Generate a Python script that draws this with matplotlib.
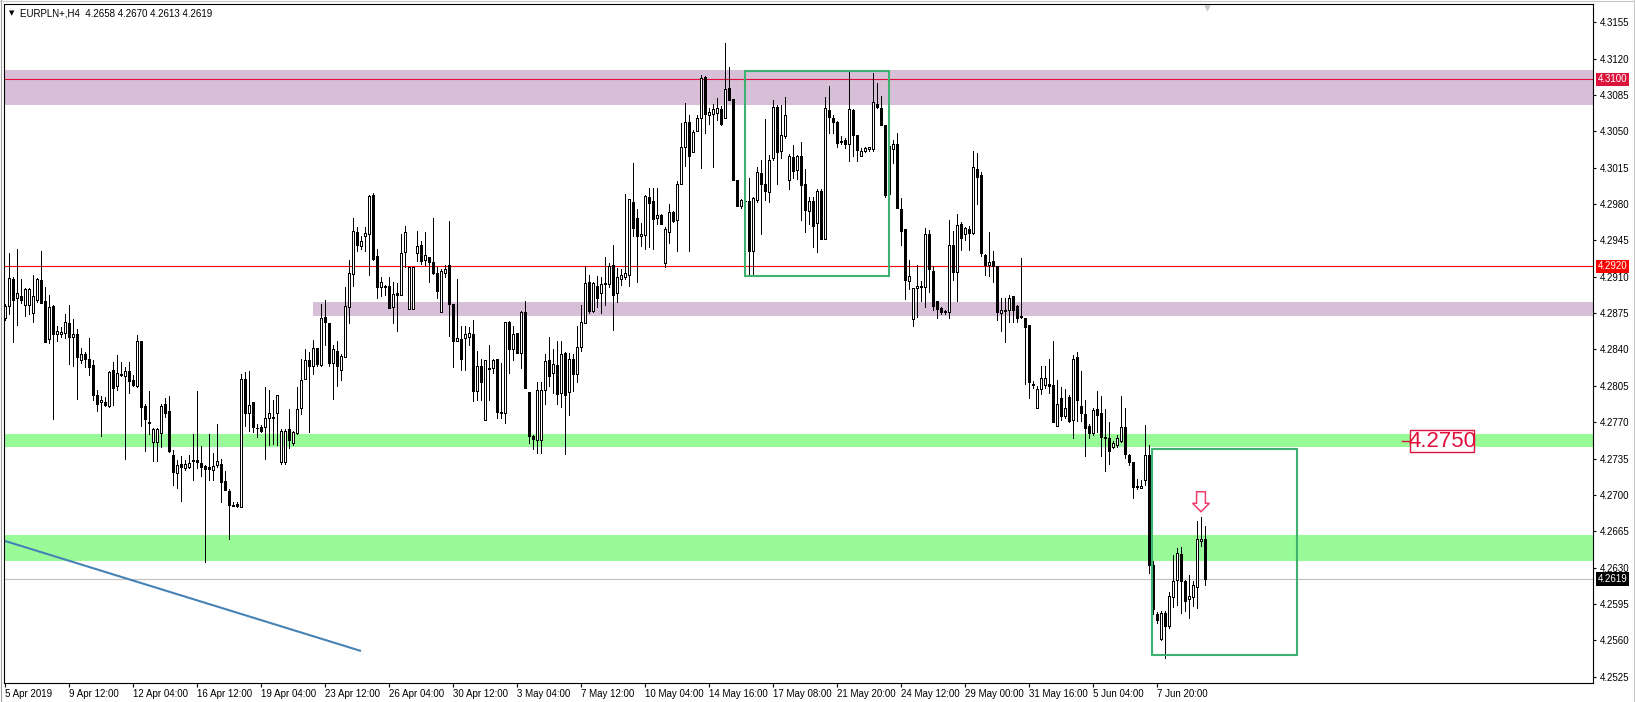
import matplotlib
matplotlib.use('Agg')
import matplotlib.pyplot as plt
import matplotlib.transforms as mtransforms
from matplotlib.patches import Rectangle, Polygon
from matplotlib.lines import Line2D
import numpy as np

# ---------------- data (prices in units of 0.0001) ----------------
open_pips = [
42870,42882,42908,42890,42891,42883,42883,42875,42888,42907,
42887,42850,42882,42855,42855,42856,42865,42852,42855,42830,
42836,42831,42825,42796,42789,42789,42786,42820,42805,42815,
42814,42819,42811,42805,42848,42786,42769,42751,42751,42760,
42788,42781,42738,42721,42730,42726,42727,42733,42734,42731,
42728,42727,42724,42729,42730,42713,42704,42690,42691,42688,
42812,42779,42789,42764,42765,42765,42774,42775,42779,42732,
42732,42763,42750,42760,42784,42812,42830,42824,42841,42825,
42871,42865,42827,42839,42820,42833,42881,42913,42953,42940,
42949,42951,42989,42930,42900,42901,42901,42881,42894,42892,
42934,42879,42879,42933,42941,42926,42929,42924,42914,42876,
42914,42921,42884,42848,42850,42851,42852,42855,42800,42824,
42772,42822,42822,42831,42780,42779,42866,42840,42856,42837,
42876,42799,42757,42753,42753,42801,42830,42817,42825,42798,
42837,42799,42831,42816,42842,42865,42905,42877,42901,42894,
42903,42903,42921,42894,42908,42910,42912,42982,42967,42949,
42950,42987,42983,42967,42969,42923,42953,42972,42965,42999,
43035,43059,43030,43050,43063,43102,43066,43067,43068,43071,
43063,43092,43081,43003,42978,42983,42983,42935,42984,43010,
42999,42992,43024,43073,43031,43045,43003,43025,43013,43026,
42999,42973,42983,42962,42993,42946,43070,43063,43059,43041,
43042,43038,43070,43046,43026,43031,43033,43033,43076,43072,
43056,42990,43033,43038,42975,42956,42906,42869,42899,42900,
42900,42951,42916,42887,42880,42877,42876,42941,42915,42961,
42951,42956,42952,43014,43008,42931,42921,42925,42920,42875,
42877,42878,42891,42882,42871,42870,42864,42807,42784,42802,
42806,42807,42806,42766,42793,42776,42794,42772,42833,42786,
42778,42766,42760,42783,42779,42756,42755,42746,42748,42752,
42765,42738,42732,42709,42707,42714,42738,42633,42585,42561,
42586,42574,42602,42618,42643,42617,42600,42602,42611,42656,
42658]

high_pips = [
42884,42933,42910,42937,42908,42899,42899,42912,42909,42935,
42900,42892,42883,42863,42862,42874,42883,42869,42860,42841,
42838,42851,42830,42801,42795,42794,42819,42828,42835,42828,
42823,42828,42815,42854,42848,42788,42800,42764,42764,42788,
42793,42795,42743,42734,42737,42734,42738,42759,42800,42747,
42729,42759,42740,42768,42735,42723,42706,42693,42693,42816,
42818,42819,42789,42768,42767,42804,42801,42791,42796,42763,
42763,42783,42762,42804,42831,42840,42838,42849,42841,42884,
42888,42865,42844,42848,42836,42900,42926,42967,42958,42949,
42958,42989,42991,42937,42910,42902,42910,42905,42904,42951,
42959,42919,42919,42954,42944,42953,42929,42967,42919,42917,
42921,42964,42884,42908,42863,42863,42862,42868,42839,42831,
42830,42844,42831,42831,42827,42866,42867,42863,42856,42877,
42887,42799,42758,42809,42809,42836,42852,42840,42848,42848,
42838,42837,42836,42863,42883,42920,42912,42905,42911,42910,
42929,42923,42941,42918,42917,42990,42985,43019,42975,42962,
42989,42995,42995,42995,42970,42958,42980,42973,43002,43058,
43077,43066,43051,43066,43104,43103,43072,43076,43082,43074,
43135,43112,43081,43003,42985,42984,43005,42987,43016,43022,
43062,43027,43080,43075,43075,43083,43028,43037,43027,43040,
43014,42987,42987,42994,42994,43083,43094,43066,43060,43045,
43044,43107,43071,43046,43034,43035,43035,43106,43096,43084,
43056,43042,43042,43048,42986,42956,42926,42899,42921,42906,
42957,42955,42920,42887,42881,42878,42965,42954,42970,42963,
42958,42959,43031,43029,43011,42932,42953,42935,42920,42890,
42890,42892,42891,42883,42928,42870,42864,42810,42805,42824,
42824,42831,42848,42811,42804,42802,42796,42835,42838,42819,
42791,42768,42784,42800,42795,42783,42770,42752,42758,42795,
42784,42739,42732,42715,42714,42767,42748,42636,42587,42588,
42588,42607,42642,42649,42650,42618,42623,42617,42675,42679,
42670]

low_pips = [
42868,42874,42847,42864,42885,42872,42874,42866,42886,42885,
42847,42846,42773,42848,42852,42851,42826,42824,42792,42827,
42823,42815,42791,42781,42757,42786,42785,42787,42801,42814,
42735,42798,42805,42804,42766,42742,42759,42733,42733,42746,
42775,42741,42710,42707,42694,42724,42726,42714,42726,42718,
42635,42714,42714,42727,42693,42705,42658,42689,42688,42688,
42766,42762,42761,42756,42761,42735,42748,42749,42748,42730,
42730,42745,42748,42759,42778,42812,42761,42816,42824,42824,
42844,42824,42792,42805,42811,42833,42865,42901,42935,42937,
42935,42912,42926,42890,42891,42892,42880,42865,42858,42892,
42919,42879,42879,42925,42922,42921,42905,42913,42890,42876,
42910,42853,42823,42848,42820,42820,42844,42790,42791,42791,
42772,42791,42817,42774,42774,42769,42817,42830,42837,42822,
42803,42750,42744,42740,42740,42788,42805,42798,42788,42785,
42739,42777,42800,42809,42839,42865,42875,42876,42881,42875,
42883,42900,42859,42886,42902,42908,42901,42949,42905,42940,
42937,42939,42937,42961,42961,42919,42942,42963,42935,42999,
43017,42935,43030,43050,43015,43048,43057,43016,43061,43056,
43063,43080,43003,42978,42976,42982,42912,42913,42982,42951,
42984,42982,43022,42999,43024,43044,42994,43005,43004,42965,
42953,42961,42939,42934,42946,42946,43048,43048,43035,43038,
43034,43021,43026,43021,43026,43030,43031,43031,43072,43056,
42987,42985,43019,42976,42941,42889,42898,42863,42871,42887,
42881,42895,42878,42870,42874,42874,42870,42907,42887,42936,
42945,42936,42951,42980,42930,42912,42911,42905,42868,42858,
42847,42866,42866,42866,42870,42807,42793,42803,42784,42797,
42803,42798,42770,42766,42772,42774,42770,42755,42771,42771,
42737,42755,42758,42761,42737,42723,42730,42745,42746,42751,
42736,42729,42697,42706,42707,42710,42625,42585,42577,42560,
42543,42572,42592,42594,42586,42588,42582,42593,42591,42651,
42613]

close_pips = [
42882,42909,42888,42894,42888,42898,42898,42891,42908,42885,
42847,42881,42855,42858,42857,42866,42852,42855,42833,42836,
42831,42823,42796,42788,42791,42787,42818,42803,42817,42816,
42819,42810,42806,42848,42785,42773,42770,42763,42763,42786,
42779,42742,42722,42729,42727,42730,42731,42734,42732,42727,
42725,42725,42728,42733,42712,42705,42690,42689,42689,42812,
42779,42787,42765,42764,42762,42774,42779,42774,42796,42762,
42762,42753,42761,42783,42811,42830,42824,42841,42826,42870,
42866,42827,42840,42824,42834,42882,42914,42954,42941,42944,
42952,42988,42927,42900,42905,42900,42880,42893,42892,42933,
42953,42919,42919,42940,42925,42931,42924,42914,42896,42916,
42917,42884,42848,42851,42831,42855,42856,42800,42824,42809,
42830,42821,42830,42780,42779,42866,42840,42855,42837,42876,
42803,42757,42754,42801,42801,42829,42814,42826,42797,42836,
42796,42831,42816,42842,42866,42904,42877,42904,42890,42903,
42904,42920,42892,42910,42912,42914,42985,42957,42949,42951,
42988,42981,42966,42969,42961,42956,42972,42964,42999,43035,
43059,43026,43049,43063,43101,43067,43069,43071,43072,43057,
43091,43080,43003,42978,42984,42983,42935,42986,43011,42999,
42993,43022,43073,43030,43046,43066,43026,43012,43026,42998,
42974,42983,42959,42993,42946,43072,43064,43059,43039,43040,
43038,43071,43046,43032,43031,43034,43035,43078,43073,43056,
42989,43036,43038,42976,42954,42907,42911,42899,42901,42901,
42951,42917,42882,42879,42876,42876,42941,42915,42960,42947,
42957,42952,43016,43006,42933,42921,42924,42920,42876,42878,
42878,42890,42878,42870,42872,42862,42809,42806,42802,42813,
42813,42805,42770,42788,42776,42784,42771,42831,42791,42779,
42764,42760,42782,42777,42756,42755,42742,42750,42755,42765,
42739,42732,42708,42708,42709,42738,42633,42590,42580,42586,
42574,42603,42617,42644,42617,42598,42603,42613,42658,42658,
42619]

date_tick_bars = [0, 16, 32, 48, 64, 80, 96, 112, 128, 144, 160, 176, 192, 208, 224, 240, 256, 272, 288]
date_tick_labels = ["5 Apr 2019", "9 Apr 12:00", "12 Apr 04:00", "16 Apr 12:00", "19 Apr 04:00",
                    "23 Apr 12:00", "26 Apr 04:00", "30 Apr 12:00", "3 May 04:00", "7 May 12:00",
                    "10 May 04:00", "14 May 16:00", "17 May 08:00", "21 May 20:00", "24 May 12:00",
                    "29 May 00:00", "31 May 16:00", "5 Jun 04:00", "7 Jun 20:00"]
price_ticks = [4.2525, 4.2560, 4.2595, 4.2630, 4.2665, 4.2700, 4.2735, 4.2770, 4.2805, 4.2840,
               4.2875, 4.2910, 4.2945, 4.2980, 4.3015, 4.3050, 4.3085, 4.3120, 4.3155]

symbol_title = "EURPLN+,H4  4.2658 4.2670 4.2613 4.2619"

# zones (price ranges)
purple_zone_top = (4.30756, 4.31093)
purple_zone_mid = (4.28724, 4.28857)
green_zone_up = (4.27464, 4.27584)
green_zone_low = (4.26362, 4.26614)
level_lines = [4.3100, 4.2920]
last_price = 4.2619
target_level = 4.2750

opens = np.array(open_pips) / 10000.0
highs = np.array(high_pips) / 10000.0
lows = np.array(low_pips) / 10000.0
closes = np.array(close_pips) / 10000.0
n = len(opens)
x = np.arange(n)

# ---------------- figure ----------------
W, H = 1635, 702
fig = plt.figure(figsize=(W / 100, H / 100), dpi=100)
fig.patch.set_facecolor('white')
ax = fig.add_axes([4 / W, (H - 683) / H, (1593 - 4) / W, (683 - 4) / H])
XMIN, XMAX = -0.25, 397.0
YMIN, YMAX = 4.25190, 4.31725
ax.set_xlim(XMIN, XMAX)
ax.set_ylim(YMIN, YMAX)

# zones
ax.axhspan(*purple_zone_top, color='#D8BFD8', lw=0, zorder=0)
ax.axhspan(*purple_zone_mid, xmin=(77 - XMIN) / (XMAX - XMIN), xmax=1, color='#D8BFD8', lw=0, zorder=0)
ax.axhspan(*green_zone_up, color='#98FB98', lw=0, zorder=0)
ax.axhspan(*green_zone_low, color='#98FB98', lw=0, zorder=0)

# level lines
ax.axhline(level_lines[0], color='#E0103C', lw=0.8, zorder=1)
ax.axhline(level_lines[1], color='#FF0000', lw=0.8, zorder=1)
ax.axhline(last_price, color='#C0C0C0', lw=0.8, zorder=1)

# candles
up = closes >= opens
ax.vlines(x, lows, highs, color='black', lw=0.72, zorder=3, antialiased=False)
body_h = np.maximum(np.abs(closes - opens), 0.00003)
body_w = 0.5
for xi, b, h, u in zip(x, np.minimum(opens, closes), body_h, up):
    ax.add_patch(Rectangle((xi - body_w / 2, b), body_w, h,
                           fc='white' if u else 'black', ec='black', lw=0.72,
                           antialiased=False, zorder=4))

# trend line
ax.plot([0, 89], [4.26557, 4.25498], color='#4682B4', lw=1.5, zorder=2, solid_capstyle='butt')

# green boxes
ax.add_patch(Rectangle((185, 4.29107), 36, 0.01973, fill=False, ec='#3CB371', lw=1.5, zorder=5))
ax.add_patch(Rectangle((286.8, 4.2546), 36.2, 0.0198, fill=False, ec='#3CB371', lw=1.5, zorder=5))

# target label 4.2750
ax.plot([349.2, 351.25], [4.27520, 4.27520], color='#E0103C', lw=1.0, zorder=6)
ax.add_patch(Rectangle((351.25, 4.27418), 16.0, 0.00207, fc='white', ec='#E0103C', lw=1.0, zorder=6))
ax.text(359.25, 4.27519, f"{target_level:.4f}", color='#E0103C', fontsize=16,
        family=['Liberation Sans Narrow', 'Liberation Sans', 'DejaVu Sans'],
        ha='center', va='center', zorder=7)

# down arrow over last bars
cx = 299
arrow_pts = [(cx - 1.1, 4.27031), (cx + 1.1, 4.27031), (cx + 1.1, 4.26920), (cx + 2.1, 4.26920),
             (cx, 4.26839), (cx - 2.1, 4.26920), (cx - 1.1, 4.26920)]
ax.add_patch(Polygon(arrow_pts, closed=True, fc='white', ec='#EE3E6A', lw=1.1, zorder=7))

# axes styling
for s in ax.spines.values():
    s.set_color('black')
    s.set_linewidth(0.8)
ax.yaxis.tick_right()
ax.set_yticks(price_ticks)
ax.set_yticklabels([f"{v:.4f}" for v in price_ticks])
ax.tick_params(axis='y', direction='out', length=2.5, width=0.8, pad=2.2, labelsize=7,
               right=True, left=False, colors='black')
ax.set_xticks(date_tick_bars)
ax.set_xticklabels(date_tick_labels, ha='left')
ax.tick_params(axis='x', direction='out', length=3, width=0.8, pad=1.5, labelsize=7)
for lab in ax.get_xticklabels() + ax.get_yticklabels():
    lab.set_family(['Liberation Sans', 'DejaVu Sans'])

# right-side price tags
tr = mtransforms.blended_transform_factory(ax.transAxes, ax.transData)
for price, bg in [(level_lines[0], '#DC143C'), (level_lines[1], '#FF0000'), (last_price, 'black')]:
    ax.text(1.0028, price, f"{price:.4f}", transform=tr, fontsize=7, color='white',
            family=['Liberation Sans', 'DejaVu Sans'], ha='left', va='center', clip_on=False,
            bbox=dict(boxstyle='square,pad=0.18', fc=bg, ec='none'), zorder=10)

# header
fig.text(9 / W, 1 - 13 / H, '\u25BC', fontsize=5, color='black', va='center', ha='left',
         family=['DejaVu Sans'])
fig.text(20 / W, 1 - 13 / H, symbol_title, fontsize=7, color='black', va='center', ha='left',
         family=['Liberation Sans', 'DejaVu Sans'])

# shift marker at top
ax.scatter([300.5], [0.994], transform=mtransforms.blended_transform_factory(ax.transData, ax.transAxes),
           marker='v', s=22, color='#C8C8C8', clip_on=False, zorder=8, lw=0)

# window frame lines
fig.add_artist(Line2D([0.5 / W, 0.5 / W], [0, 1], color='#A0A0A0', lw=0.8))
fig.add_artist(Line2D([1633.5 / W, 1633.5 / W], [0, 1], color='#C8C8C8', lw=0.8))
fig.add_artist(Line2D([0, 1], [1 - 0.5 / H, 1 - 0.5 / H], color='#C8C8C8', lw=0.8))

fig.savefig('out.png', dpi=100)
